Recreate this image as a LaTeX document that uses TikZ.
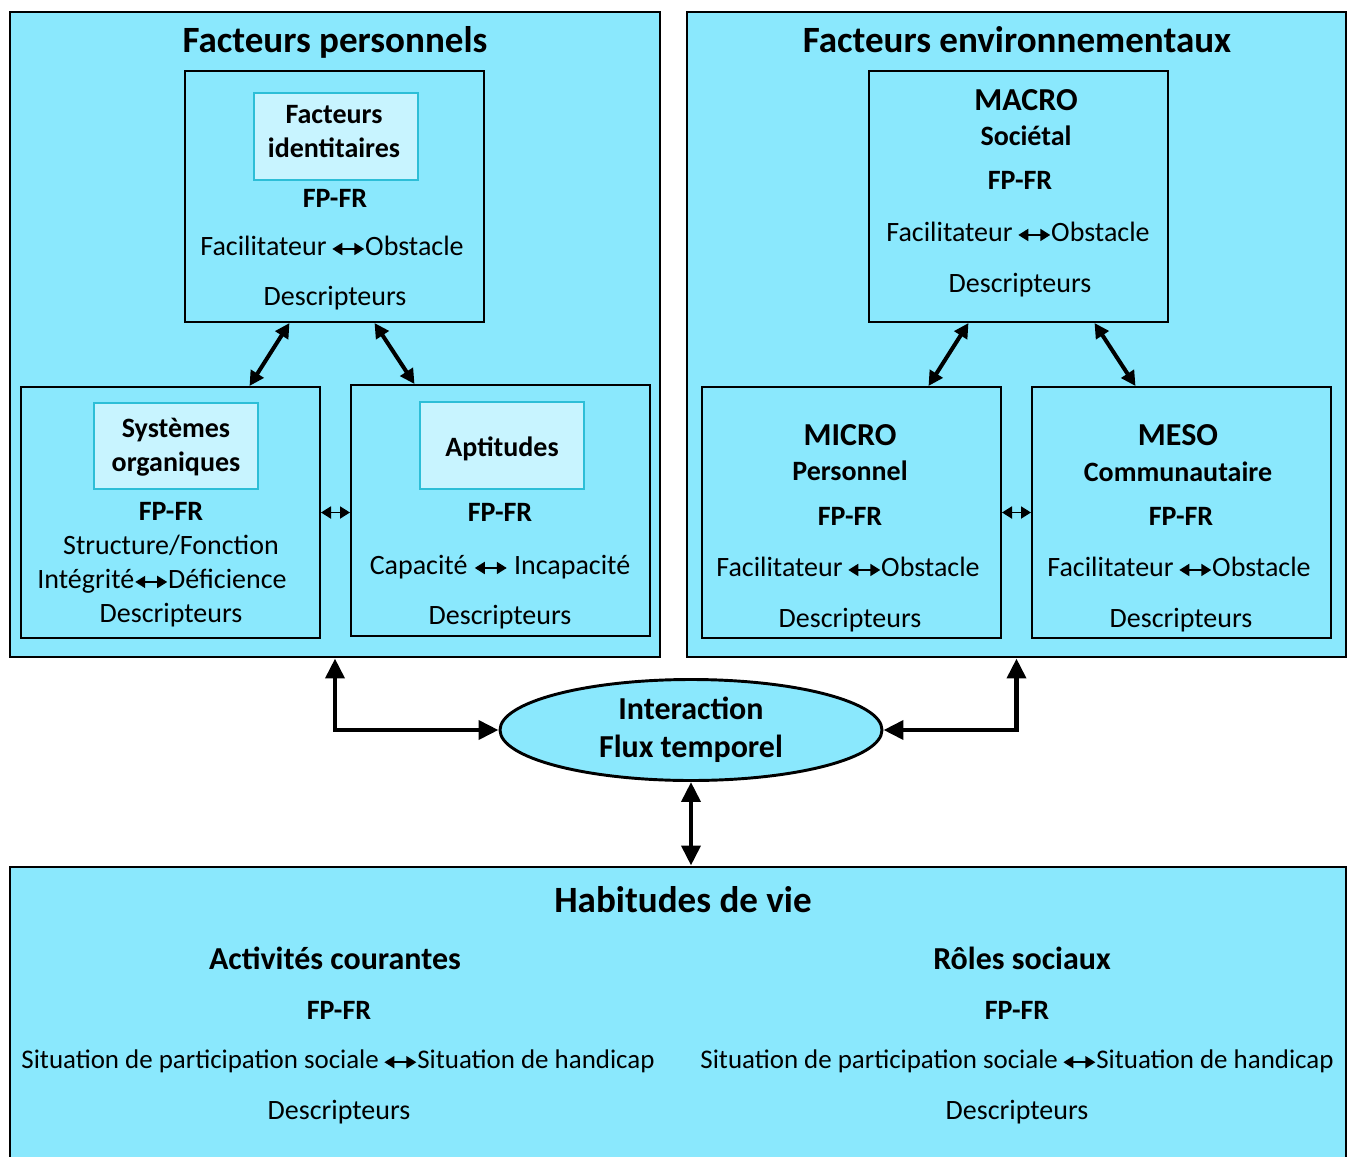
\documentclass[tikz,border=0pt]{standalone}
\usepackage{fontspec}
\setmainfont{Carlito}
\usetikzlibrary{arrows.meta,calc,fit,shapes.geometric}

\definecolor{panelcyan}{RGB}{138,232,253}
\definecolor{tagcyan}{RGB}{200,244,255}
\definecolor{tagline}{RGB}{45,190,215}

% small double arrow used inside the texts
\newcommand{\lrarrow}{\tikz[x=1pt,y=1pt,baseline=-0.45ex]\draw[black,line width=1.4pt,{Triangle[length=7.5pt,width=9pt]}-{Triangle[length=7.5pt,width=9pt]}] (0,0) -- (24,0);}

\begin{document}
\begin{tikzpicture}[x=0.75pt,y=0.75pt,yscale=-1,xscale=1,
  panel/.style={draw, line width=2.2pt, fill=panelcyan, inner sep=0pt},
  inbox/.style={draw, line width=1.5pt, fill=panelcyan, inner sep=0pt},
  tagbox/.style={draw=tagline, line width=0.8pt, fill=tagcyan, inner sep=0pt},
  hd/.style={anchor=base, inner sep=0pt, font=\fontsize{27.8}{33}\selectfont\bfseries},
  sub/.style={anchor=base, inner sep=0pt, font=\fontsize{24}{29}\selectfont\bfseries},
  bld/.style={anchor=base, inner sep=0pt, font=\fontsize{21}{25}\selectfont\bfseries},
  txt/.style={anchor=base, inner sep=0pt, font=\fontsize{21}{25}\selectfont},
  longtxt/.style={txt, font=\fontsize{20.2}{25}\selectfont},
  link/.style={line width=3pt, {Triangle[length=11pt,width=11pt]}-{Triangle[length=11pt,width=11pt]}},
  bigLink/.style={line width=3.5pt, {Triangle[length=15pt,width=14pt]}-{Triangle[length=15pt,width=14pt]}},
  thinLink/.style={line width=1.4pt, {Triangle[length=7.5pt,width=9pt]}-{Triangle[length=7.5pt,width=9pt]}}]
\useasboundingbox (0,0) rectangle (1347,1157);

%Shape: Panels
\node[panel, fit={(10,12) (660,657)}] (perso) {};
\node[panel, fit={(687,12) (1346,657)}] (envi) {};
\node[panel, fit={(10,867) (1346,1190)}] (habit) {};

%Shape: Inner boxes
\node[inbox, fit={(185,71) (484,322)}] (ident) {};
\node[inbox, fit={(21,387) (320,638)}] (orga) {};
\node[inbox, fit={(351,385) (650,636)}] (apt) {};
\node[inbox, fit={(869,71) (1168,322)}] (macro) {};
\node[inbox, fit={(702,387) (1001,638)}] (micro) {};
\node[inbox, fit={(1032,387) (1331,638)}] (meso) {};
\node[tagbox, fit={(254,93) (418,180)}] (identTag) {};
\node[tagbox, fit={(94,403) (258,489)}] (orgaTag) {};
\node[tagbox, fit={(420,402) (584,489)}] (aptTag) {};

%Shape: Ellipse
\node[draw, ellipse, line width=2.2pt, fill=panelcyan, minimum width=286.5pt, minimum height=75.75pt, inner sep=0pt, align=center, font=\fontsize{24}{28.5}\selectfont\bfseries] (inter) at (691,730) {Interaction\\Flux temporel};

%Straight Lines
\draw[link] ($(ident.south)+(-45,0)$) -- ($(orga.north)+(79,0)$);
\draw[link] ($(ident.south)+(40,0)$) -- ($(apt.north)+(-86,0)$);
\draw[link] ($(macro.south)+(-50,0)$) -- ($(micro.north)+(77,0)$);
\draw[link] ($(macro.south)+(76,0)$) -- ($(meso.north)+(-46,0)$);
\draw[thinLink] (orga.east) -- (orga.east -| apt.west);
\draw[thinLink] (micro.east) -- (meso.west);
\draw[bigLink] (inter.west) -| (perso.south);
\draw[bigLink] (inter.east) -| (envi.south);
\draw[bigLink] (inter.south) -- (inter.south |- habit.north);

% Text Node - facteurs personnels
\node[hd] (persoTitle) at (335,52) {Facteurs personnels};
\node[bld] (identA) at (334,123) {Facteurs};
\node[bld] (identB) at (334,157) {identitaires};
\node[bld] (identFp) at (335,207) {FP-FR};
\node[txt] (identFo) at (332,255) {Facilitateur\,\lrarrow Obstacle};
\node[txt] (identDe) at (335,305) {Descripteurs};
\node[bld] (orgaA) at (176,437) {Systèmes};
\node[bld] (orgaB) at (176,471) {organiques};
\node[bld] (orgaFp) at (171,520) {FP-FR};
\node[txt] (orgaSf) at (171,554) {Structure/Fonction};
\node[txt] (orgaId) at (162,588) {Intégrité\lrarrow Déficience};
\node[txt] (orgaDe) at (171,622) {Descripteurs};
\node[bld] (aptA) at (502,456) {Aptitudes};
\node[bld] (aptFp) at (500,521) {FP-FR};
\node[txt] (aptCi) at (500,574) {Capacité \lrarrow\ Incapacité};
\node[txt] (aptDe) at (500,624) {Descripteurs};

% Text Node - facteurs environnementaux
\node[hd] (enviTitle) at (1017,52) {Facteurs environnementaux};
\node[sub] (macroA) at (1026,110) {MACRO};
\node[bld] (macroB) at (1026,145) {Sociétal};
\node[bld] (macroFp) at (1020,189) {FP-FR};
\node[txt] (macroFo) at (1018,241) {Facilitateur\,\lrarrow Obstacle};
\node[txt] (macroDe) at (1020,292) {Descripteurs};
\node[sub] (microA) at (850,445) {MICRO};
\node[bld] (microB) at (850,480) {Personnel};
\node[bld] (microFp) at (850,525) {FP-FR};
\node[txt] (microFo) at (848,576) {Facilitateur\,\lrarrow Obstacle};
\node[txt] (microDe) at (850,627) {Descripteurs};
\node[sub] (mesoA) at (1178,445) {MESO};
\node[bld] (mesoB) at (1178,481) {Communautaire};
\node[bld] (mesoFp) at (1181,525) {FP-FR};
\node[txt] (mesoFo) at (1179,576) {Facilitateur\,\lrarrow Obstacle};
\node[txt] (mesoDe) at (1181,627) {Descripteurs};

% Text Node - habitudes de vie
\node[hd] (habitTitle) at (683,912) {Habitudes de vie};
\node[sub] (actA) at (335,969) {Activités courantes};
\node[bld] (actFp) at (339,1019) {FP-FR};
\node[longtxt] (actSp) at (338,1068) {Situation de participation sociale\,\lrarrow Situation de handicap};
\node[txt] (actDe) at (339,1119) {Descripteurs};
\node[sub] (roleA) at (1022,969) {Rôles sociaux};
\node[bld] (roleFp) at (1017,1019) {FP-FR};
\node[longtxt] (roleSp) at (1017,1068) {Situation de participation sociale\,\lrarrow Situation de handicap};
\node[txt] (roleDe) at (1017,1119) {Descripteurs};

\end{tikzpicture}
\end{document}
